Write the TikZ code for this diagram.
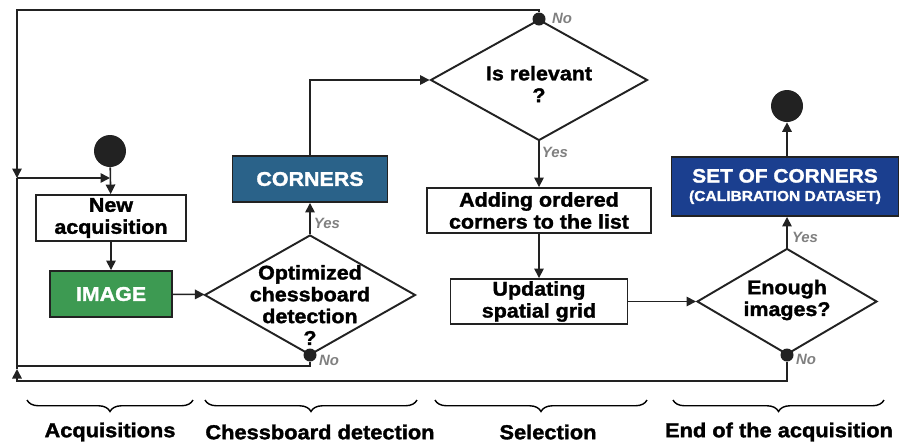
\documentclass[tikz,border=0pt]{standalone}
\usepackage{fontspec}
\setmainfont{Liberation Sans}[BoldFeatures={FakeBold=1.6, FakeStretch=1.08}]
\usepackage{tikz}
\usetikzlibrary{shapes,arrows.meta,decorations.pathreplacing}

\definecolor{colLine}{HTML}{222222}
\definecolor{colNote}{HTML}{808080}
\definecolor{colImage}{HTML}{3D9A52}
\definecolor{colCorners}{HTML}{2A6289}
\definecolor{colSet}{HTML}{1B3F8F}

\begin{document}
\begin{tikzpicture}[x=0.02cm,y=-0.02cm]
			\useasboundingbox (0,0) rectangle (902,444);
			\begin{scope}
				[
					styleBox/.style={
						draw=colLine, line width=1.1pt, inner sep=0pt,
						minimum height=0.9cm, align=center,
						font=\bfseries\fontsize{11.3}{12.5}\selectfont
						},
					styleFill/.style={styleBox, fill=#1, text=white},
					styleDec/.style={draw=colLine, line width=1.1pt, diamond, inner sep=0pt},
					styleTxt/.style={align=center, font=\bfseries\fontsize{11.3}{12.4}\selectfont},
					styleDot/.style={circle, fill=colLine, inner sep=0pt, minimum size=#1},
					styleNote/.style={text=colNote, font=\bfseries\itshape\fontsize{8.5}{9}\selectfont},
					stylePart/.style={font=\bfseries\fontsize{11.5}{12}\selectfont},
				]
				\node(start)[styleDot=0.64cm] at (110,151) {};
				\node(newacq)[styleBox, minimum width=3cm, minimum height=0.92cm] at (111,218) {New\\acquisition};
				\node(image)[styleFill=colImage, minimum width=2.44cm, minimum height=0.92cm] at (111,294) {IMAGE};

				\node(opt)[styleDec, minimum width=4.22cm, minimum height=2.4cm] at (310,295) {};
				\node(optTxt)[styleTxt] at (310,305) {Optimized\\chessboard\\detection\\?};
				\node(optNo)[styleDot=0.26cm] at (310,355) {};
				\node(corners)[styleFill=colCorners, minimum width=3.1cm, minimum height=0.92cm] at (310,179) {CORNERS};

				\node(rel)[styleDec, minimum width=4.34cm, minimum height=2.42cm] at (539,80) {};
				\node(relTxt)[styleTxt] at (539,84) {Is relevant\\?};
				\node(relNo)[styleDot=0.26cm] at (539,19) {};
				\node(add)[styleBox, minimum width=4.48cm] at (539,210.5) {Adding ordered\\corners to the list};
				\node(upd)[styleBox, minimum width=3.54cm] at (539,301.5) {Updating\\spatial grid};

				\node(enough)[styleDec, minimum width=3.6cm, minimum height=2.12cm] at (787,301.5) {};
				\node(enoughTxt)[styleTxt] at (787,300) {Enough\\images?};
				\node(enoughNo)[styleDot=0.26cm] at (787,355) {};
				\node(set)[styleFill=colSet, minimum width=4.54cm, minimum height=1.18cm] at (785,186.5)
					{\fontsize{11}{12}\selectfont SET OF CORNERS\\[-2pt]\fontsize{8.2}{9}\selectfont (CALIBRATION DATASET)};
				\node(end)[styleDot=0.64cm] at (787,106) {};

				% yes / no
				\node(noteCorners)[styleNote] at (327,223) {Yes};
				\node(noteOpt)[styleNote] at (329,360) {No};
				\node(noteRelNo)[styleNote] at (562,18) {No};
				\node(noteRelYes)[styleNote] at (555,152) {Yes};
				\node(noteSet)[styleNote] at (805,237) {Yes};
				\node(noteEnough)[styleNote] at (806,359) {No};

				% steps
				\node(partAcq)[stylePart] at (110,432) {Acquisitions};
				\node(partChess)[stylePart] at (320,432) {Chessboard detection};
				\node(partSel)[stylePart] at (548,432) {Selection};
				\node(partEnd)[stylePart] at (779,432) {End of the acquisition};

				\coordinate(cTop) at (17,10);
				\coordinate(cJoin) at (17,178);
				\coordinate(cLow) at (17,366);
				\coordinate(cBot) at (17,381);
				\coordinate(cUp) at (17,369);
			\end{scope}
			\begin{scope}
				[ arr/.style = {-{Triangle[length=1.9mm,width=1.9mm]}},
				line width=0.9pt, draw=colLine]
				\path[draw=colLine]
				(start) edge[arr]			(newacq)
				(newacq) edge[arr]			(image)
				(image) edge[arr]			(opt)
				(opt) edge[arr]				(corners)
				(rel) edge[arr]				(add)
				(add) edge[arr]				(upd)
				(upd) edge[arr]				(enough);

				\draw[arr] (corners.north) |- (rel.west);
				\draw[arr] (enough.north) -- (enough.north |- set.south);
				\draw[arr] (set.north -| end) -- (end);

				% back to a new image
				\draw[arr] (relNo) |- (cTop) -- (cJoin);
				\draw[arr] (cJoin) -- (cJoin -| start);
				\draw (optNo) |- (cLow);
				\draw[arr] (enoughNo) |- (cBot) -- (cUp);
				\draw (cUp) -- (cJoin);
			\end{scope}
			\begin{scope}
				[ styleBrace/.style = {decorate, decoration={brace, mirror, amplitude=0.23cm}, line width=0.8pt}]
				\draw[styleBrace] (27,400) -- (193,400);
				\draw[styleBrace] (205,400) -- (417,400);
				\draw[styleBrace] (435,400) -- (647,400);
				\draw[styleBrace] (673,400) -- (884,400);
			\end{scope}
		\end{tikzpicture}
\end{document}
